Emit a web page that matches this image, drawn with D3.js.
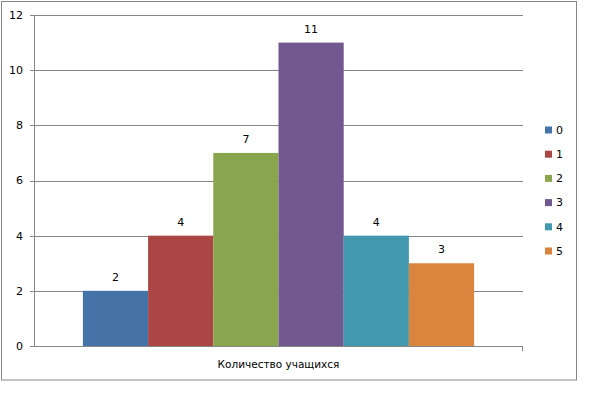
<!DOCTYPE html>
<html>
<head>
<meta charset="utf-8">
<script src="https://cdn.jsdelivr.net/npm/d3@7"></script>
<style>
  body { margin: 0; background: #fff; }
  svg { display: block; font-family: "DejaVu Sans", Verdana, sans-serif; }
</style>
</head>
<body>
<div id="chart"></div>
<script>
var categories = ["Количество учащихся"];
var seriesNames = ["0", "1", "2", "3", "4", "5"];
var seriesValues = [2, 4, 7, 11, 4, 3];
var yTicks = [0, 2, 4, 6, 8, 10, 12];
var colors = ["#4572A7", "#AA4643", "#89A54E", "#71588F", "#4198AF", "#DB843D"];

var width = 604, height = 396;
var margin = {left: 34, top: 15, right: 81, bottom: 50};

var svg = d3.select("#chart").append("svg")
    .attr("width", width)
    .attr("height", height);

// outer chart border
svg.append("rect")
    .attr("x", 1.5).attr("y", 1.5)
    .attr("width", 575).attr("height", 378.5)
    .attr("fill", "#fff")
    .attr("stroke", "#868686");

var x0 = d3.scaleBand()
    .domain(categories)
    .range([margin.left, width - margin.right])
    .paddingInner(0)
    .paddingOuter(0.125);

var x1 = d3.scaleBand()
    .domain(seriesNames)
    .range([0, x0.bandwidth()]);

var y = d3.scaleLinear()
    .domain([0, 12])
    .range([height - margin.bottom, margin.top]);

// gridlines
svg.append("g")
    .selectAll("line")
    .data(yTicks)
    .enter().append("line")
    .attr("x1", margin.left - 4)
    .attr("x2", width - margin.right)
    .attr("y1", function(d) { return Math.round(y(d)) + 0.5; })
    .attr("y2", function(d) { return Math.round(y(d)) + 0.5; })
    .attr("stroke", "#868686");

// y axis line
svg.append("line")
    .attr("x1", margin.left + 0.5).attr("x2", margin.left + 0.5)
    .attr("y1", y(12)).attr("y2", y(0))
    .attr("stroke", "#868686");

// right end tick of x axis
svg.append("line")
    .attr("x1", width - margin.right - 0.5).attr("x2", width - margin.right - 0.5)
    .attr("y1", Math.round(y(0))).attr("y2", Math.round(y(0)) + 5)
    .attr("stroke", "#868686");

svg.append("g")
    .selectAll("text")
    .data(yTicks)
    .enter().append("text")
    .attr("x", margin.left - 11)
    .attr("y", function(d) { return y(d); })
    .attr("dy", "0.35em")
    .attr("text-anchor", "end")
    .attr("font-size", 11)
    .attr("fill", "#000")
    .text(function(d) { return d; });

var group = svg.append("g")
    .selectAll("g")
    .data(categories)
    .enter().append("g")
    .attr("transform", function(d) { return "translate(" + x0(d) + ",0)"; });

group.selectAll("rect")
    .data(seriesValues)
    .enter().append("rect")
    .attr("x", function(d, i) { return x1(seriesNames[i]); })
    .attr("y", function(d) { return y(d); })
    .attr("width", x1.bandwidth())
    .attr("height", function(d) { return y(0) - y(d); })
    .attr("fill", function(d, i) { return colors[i]; });

group.selectAll("text")
    .data(seriesValues)
    .enter().append("text")
    .attr("x", function(d, i) { return x1(seriesNames[i]) + x1.bandwidth() / 2; })
    .attr("y", function(d) { return y(d) - 10; })
    .attr("text-anchor", "middle")
    .attr("font-size", 11)
    .attr("fill", "#000")
    .text(function(d) { return d; });

svg.append("text")
    .attr("x", x0(categories[0]) + x0.bandwidth() / 2)
    .attr("y", 368)
    .attr("text-anchor", "middle")
    .attr("font-size", 10.5)
    .attr("fill", "#000")
    .text(categories[0]);

var legend = svg.append("g")
    .selectAll("g")
    .data(seriesNames)
    .enter().append("g")
    .attr("transform", function(d, i) { return "translate(545," + (130 + i * 24.2) + ")"; });

legend.append("rect")
    .attr("x", 0).attr("y", -3.5)
    .attr("width", 7).attr("height", 7)
    .attr("fill", function(d, i) { return colors[i]; });

legend.append("text")
    .attr("x", 11)
    .attr("dy", "0.35em")
    .attr("font-size", 11)
    .attr("fill", "#000")
    .text(function(d) { return d; });
</script>
</body>
</html>
